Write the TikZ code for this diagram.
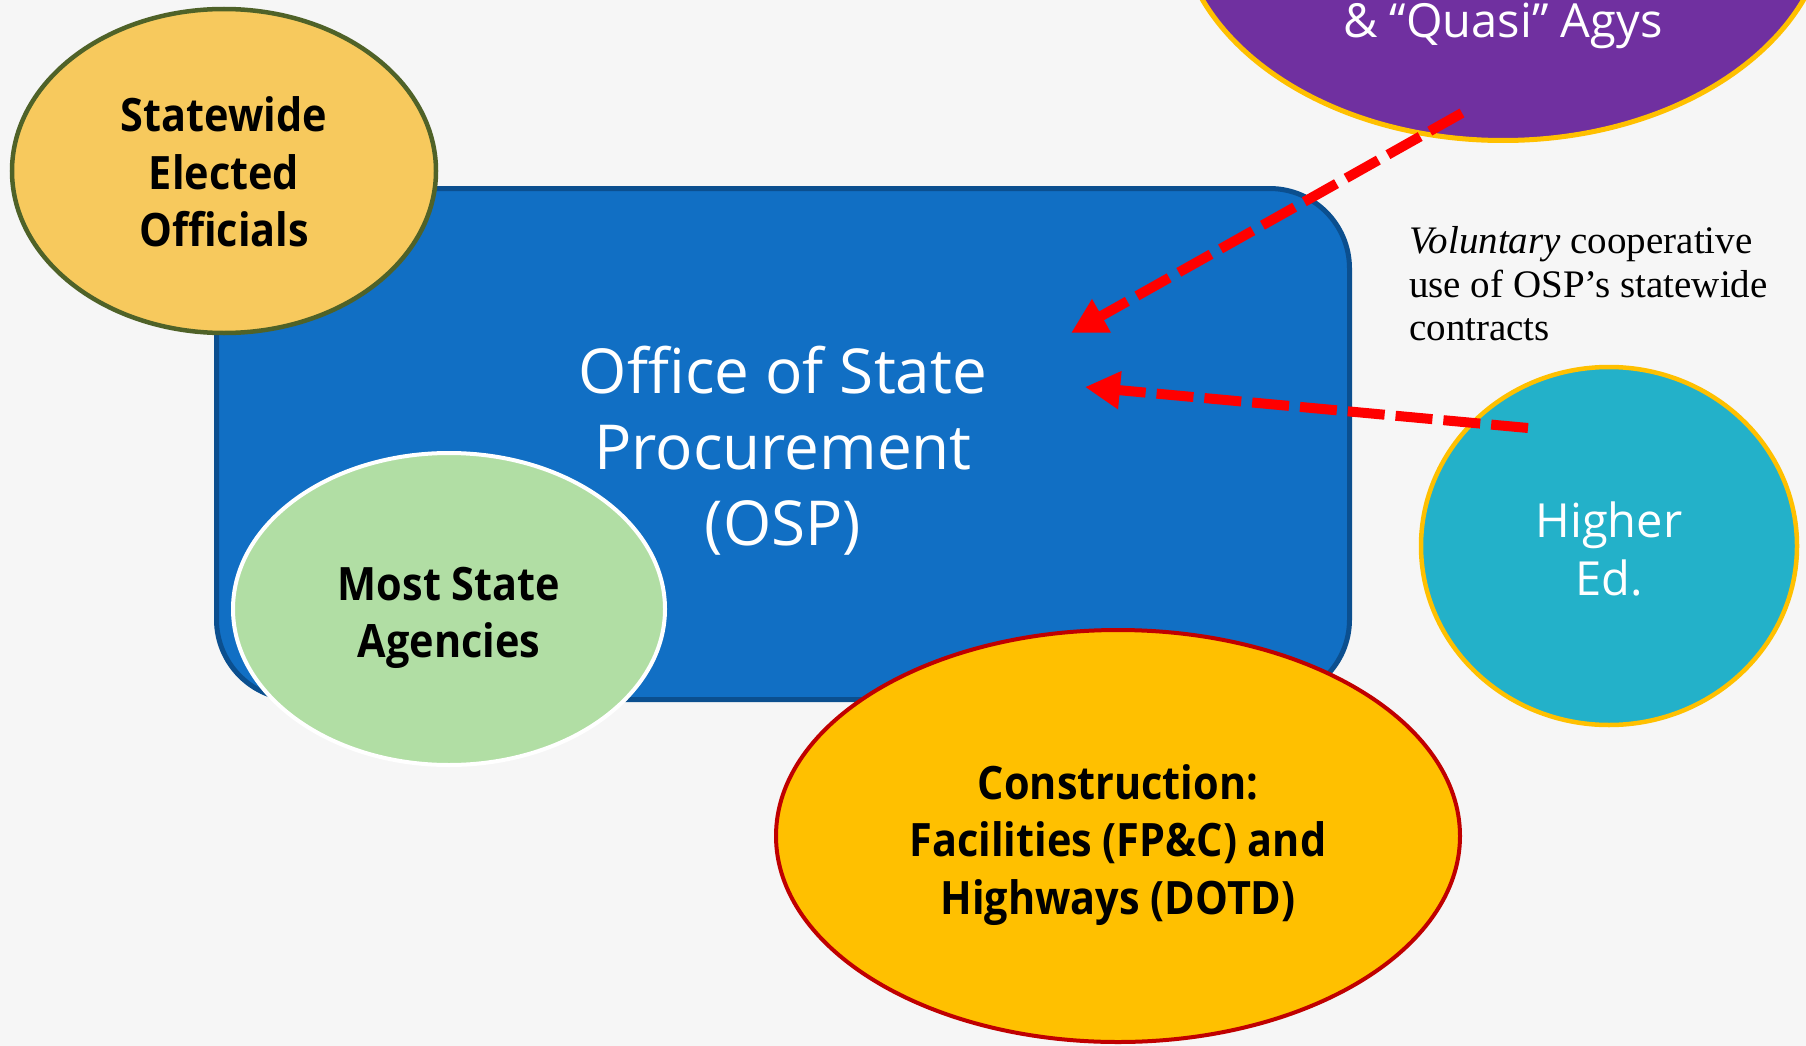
\documentclass[tikz,border=0pt]{standalone}
\usepackage{fontspec}
\setmainfont{Open Sans}
\newfontfamily\segb[FakeStretch=0.9]{Open Sans}
\newfontfamily\segr{Open Sans}
\newfontfamily\palfont{Liberation Serif}
\usetikzlibrary{shapes.geometric,arrows.meta}
\definecolor{bgcol}{HTML}{F6F6F6}
\definecolor{yelfill}{HTML}{F7C95D}
\definecolor{olive}{HTML}{4F6228}
\definecolor{ospblue}{HTML}{116FC4}
\definecolor{ospdark}{HTML}{0B4F8F}
\definecolor{greenfill}{HTML}{B1DEA4}
\definecolor{purplefill}{HTML}{7030A0}
\definecolor{gold}{HTML}{FFC000}
\definecolor{tealfill}{HTML}{23B1C9}
\definecolor{darkred}{HTML}{C00000}
\definecolor{arrowred}{HTML}{FF0000}
\begin{document}
\begin{tikzpicture}[x=1pt,y=-1pt,
  oval/.style={ellipse, inner sep=0pt},
  boldlbl/.style={font=\segb\bfseries\fontsize{46}{57.5}\selectfont, text=black, align=center},
  reglbl/.style={font=\segr\fontsize{47}{58}\selectfont, text=white, align=center},
  vol/.style={draw=arrowred, line width=10pt, dash pattern=on 37pt off 11pt,
     -{Triangle[length=35pt,width=36pt]}},
  note/.style={font=\palfont\fontsize{39}{43}\selectfont, anchor=base west, inner sep=0pt}
]
\fill[bgcol] (0,0) rectangle (1806,1046);
\useasboundingbox (0,0) rectangle (1806,1046);

% central box
\node[rectangle, rounded corners=80pt, fill=ospblue, draw=ospdark, line width=5pt,
  minimum width=1133pt, minimum height=511pt, inner sep=0pt] (osp) at (783,444) {};
\node[font=\segr\fontsize{62}{76}\selectfont, text=white, align=center]
  (osp-t) at ([yshift=-7pt]osp.center) {Office of State\\Procurement\\(OSP)};

% ellipses
\node[oval, fill=yelfill, draw=olive, line width=4.5pt,
  minimum width=424pt, minimum height=324pt] (elected) at (224,171) {};
\node[boldlbl] (elected-t) at ([yshift=-1pt]elected.center) {Statewide\\Elected\\Officials};

\node[oval, fill=greenfill, draw=white, line width=4pt,
  minimum width=432pt, minimum height=312pt] (agencies) at (449,609) {};
\node[boldlbl] (agencies-t) at ([yshift=-9pt]agencies.center) {Most State\\Agencies};

\node[oval, fill=gold, draw=darkred, line width=4pt,
  minimum width=684pt, minimum height=412pt] (constr) at (1118,836) {};
\node[boldlbl] (constr-t) at ([yshift=-9pt]constr.center)
  {Construction:\\Facilities (FP\&C) and\\Highways (DOTD)};

\node[oval, fill=tealfill, draw=gold, line width=4.5pt,
  minimum width=376pt, minimum height=358pt] (highered) at (1609,546) {};
\node[reglbl] (highered-t) at ([yshift=-3pt]highered.center) {Higher\\Ed.};

\node[oval, fill=purplefill, draw=gold, line width=5pt,
  minimum width=650pt, minimum height=455pt] (quasiell) at (1503,-87) {};
\node[reglbl, anchor=base, inner sep=0pt] (quasi) at (1503,38) {\& “Quasi” Agys};

% arrows
\coordinate (a1s) at (1462,113);
\coordinate (a1e) at (1071,333);
\coordinate (a2s) at (1528,428);
\coordinate (a2e) at (1085,387);
\draw[vol] (a1s) -- (a1e);
\draw[vol] (a2s) -- (a2e);

% note
\node[note] (n1) at (1409,253) {\textit{Voluntary} cooperative};
\node[note] (n2) at (1409,297) {use of OSP’s statewide};
\node[note] (n3) at (1409,340) {contracts};
\end{tikzpicture}
\end{document}
